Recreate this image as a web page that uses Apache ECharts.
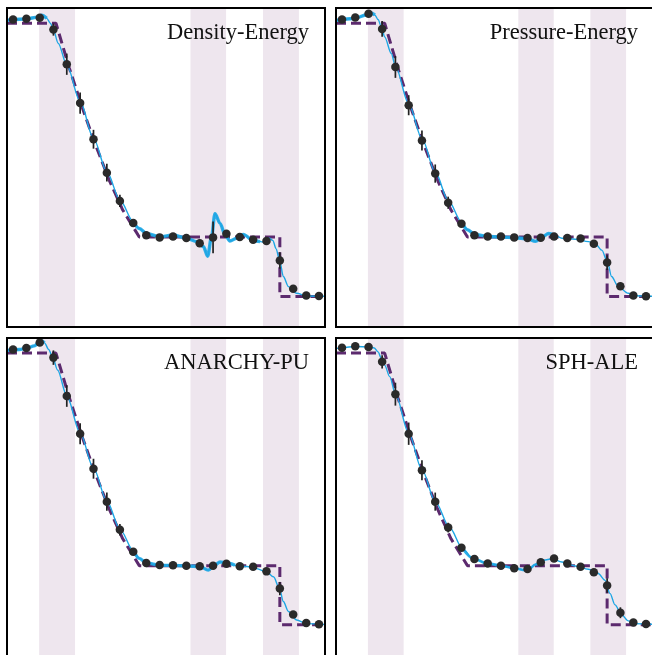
<!DOCTYPE html>
<html><head><meta charset="utf-8">
<script src="https://cdn.jsdelivr.net/npm/echarts@6/dist/echarts.min.js"></script>
<style>html,body{margin:0;padding:0;background:#fff}#c{width:652px;height:655px}</style>
</head><body><div id="c"></div>
<script>
// ---- data ----
const panelNames = ['Density-Energy', 'Pressure-Energy', 'ANARCHY-PU', 'SPH-ALE'];

// shaded comparison regions (x)
const bandStart = [0.101, 0.577, 0.805];
const bandEnd   = [0.214, 0.689, 0.918];

// analytic solution (pressure)
const analyticX = [0, 0.154, 0.196, 0.238, 0.280, 0.322, 0.364, 0.416, 0.858, 0.858, 1.0];
const analyticP = [1.0, 1.0, 0.852, 0.718, 0.595, 0.482, 0.385, 0.296, 0.296, 0.100, 0.100];

// binned means (x positions shared)
const binX = [0.019,0.061,0.103,0.146,0.188,0.230,0.272,0.314,0.355,0.397,0.438,0.480,0.522,0.564,0.606,0.648,0.690,0.732,0.774,0.816,0.858,0.900,0.941,0.981];

const deBinP = [1.012,1.015,1.018,0.979,0.865,0.737,0.618,0.508,0.415,0.342,0.302,0.295,0.298,0.293,0.276,0.295,0.307,0.296,0.287,0.283,0.219,0.126,0.104,0.102];
const deBinErr = [0.003,0.003,0.003,0.020,0.035,0.035,0.031,0.029,0.020,0.009,0.004,0.003,0.003,0.003,0.005,0.052,0.005,0.003,0.003,0.004,0.027,0.006,0.003,0.003];
const peBinP = [1.012,1.019,1.031,0.981,0.856,0.730,0.614,0.505,0.409,0.340,0.302,0.298,0.298,0.295,0.293,0.294,0.298,0.293,0.291,0.274,0.212,0.134,0.104,0.101];
const peBinErr = [0.003,0.003,0.003,0.026,0.036,0.033,0.033,0.030,0.020,0.009,0.004,0.003,0.003,0.003,0.003,0.004,0.003,0.003,0.003,0.004,0.024,0.009,0.003,0.003];
const apBinP = [1.012,1.017,1.035,0.985,0.858,0.733,0.617,0.508,0.415,0.342,0.305,0.298,0.297,0.296,0.294,0.296,0.302,0.294,0.292,0.277,0.220,0.134,0.106,0.102];
const apBinErr = [0.003,0.003,0.003,0.024,0.036,0.035,0.033,0.030,0.019,0.007,0.004,0.003,0.003,0.003,0.003,0.003,0.003,0.003,0.003,0.004,0.022,0.007,0.003,0.003];
const saBinP = [1.018,1.023,1.020,0.971,0.864,0.733,0.612,0.508,0.422,0.355,0.318,0.303,0.296,0.287,0.285,0.307,0.320,0.303,0.292,0.274,0.230,0.140,0.108,0.103];
const saBinErr = [0.003,0.003,0.003,0.022,0.038,0.037,0.033,0.030,0.016,0.011,0.004,0.003,0.003,0.003,0.003,0.003,0.003,0.003,0.003,0.004,0.024,0.018,0.003,0.003];

// particle profiles
const deBlueX = [0,0.018,0.060,0.097,0.109,0.125,0.137,0.146,0.161,0.188,0.230,0.272,0.314,0.355,0.397,0.416,0.439,0.481,0.523,0.565,0.597,0.618,0.631,0.643,0.654,0.670,0.686,0.701,0.722,0.743,0.775,0.796,0.809,0.825,0.836,0.846,0.857,0.869,0.885,0.911,0.942,1.0];
const deBlueP = [1.009,1.012,1.014,1.020,1.026,1.016,0.999,0.978,0.934,0.862,0.742,0.621,0.511,0.418,0.347,0.324,0.308,0.297,0.303,0.292,0.281,0.264,0.233,0.296,0.373,0.341,0.303,0.283,0.292,0.305,0.284,0.281,0.279,0.292,0.285,0.258,0.221,0.166,0.133,0.111,0.102,0.101];
const peBlueX = [0,0.028,0.060,0.097,0.110,0.123,0.133,0.144,0.154,0.175,0.188,0.230,0.272,0.314,0.355,0.397,0.416,0.439,0.481,0.523,0.565,0.607,0.631,0.652,0.673,0.694,0.715,0.757,0.799,0.820,0.841,0.859,0.872,0.893,0.925,0.946,1.0];
const peBlueP = [1.009,1.013,1.016,1.028,1.034,1.027,1.012,0.987,0.955,0.900,0.858,0.735,0.620,0.510,0.417,0.346,0.320,0.305,0.298,0.296,0.294,0.290,0.282,0.296,0.308,0.301,0.292,0.289,0.281,0.275,0.253,0.215,0.166,0.133,0.111,0.103,0.101];
const apBlueX = [0,0.039,0.062,0.086,0.102,0.108,0.118,0.131,0.144,0.159,0.188,0.230,0.272,0.314,0.355,0.397,0.416,0.439,0.481,0.523,0.565,0.607,0.633,0.652,0.670,0.691,0.717,0.754,0.785,0.817,0.838,0.857,0.869,0.885,0.911,0.942,1.0];
const apBlueP = [1.009,1.012,1.016,1.024,1.037,1.040,1.034,1.012,0.985,0.944,0.858,0.735,0.619,0.510,0.417,0.346,0.320,0.305,0.297,0.297,0.295,0.293,0.281,0.298,0.308,0.306,0.297,0.293,0.286,0.275,0.259,0.220,0.177,0.144,0.116,0.104,0.101];
const saBlueX = [0,0.020,0.062,0.107,0.121,0.133,0.144,0.154,0.170,0.188,0.230,0.272,0.314,0.359,0.401,0.432,0.474,0.516,0.558,0.600,0.610,0.631,0.657,0.684,0.715,0.757,0.799,0.830,0.851,0.867,0.883,0.904,0.925,0.946,1.0];
const saBlueP = [1.015,1.018,1.022,1.020,1.017,1.004,0.982,0.960,0.922,0.865,0.735,0.614,0.509,0.423,0.352,0.321,0.305,0.297,0.289,0.281,0.284,0.300,0.314,0.319,0.308,0.295,0.284,0.270,0.248,0.204,0.166,0.133,0.113,0.104,0.102];

// ---- layout / style ----
const panels = [
  {name: panelNames[0], binP: deBinP, err: deBinErr, bx: deBlueX, bp: deBlueP, thick: [[0,0.126],[0.39,0.80]], tw: 3.4},
  {name: panelNames[1], binP: peBinP, err: peBinErr, bx: peBlueX, bp: peBlueP, thick: [[0,0.124],[0.39,0.70]], tw: 3.4},
  {name: panelNames[2], binP: apBinP, err: apBinErr, bx: apBlueX, bp: apBlueP, thick: [[0,0.120],[0.39,0.72]], tw: 3.4},
  {name: panelNames[3], binP: saBinP, err: saBinErr, bx: saBlueX, bp: saBlueP, thick: [[0.39,0.66]], tw: 2.6}
];
const gridPos = [
  {left: 7, top: 8}, {left: 336, top: 8}, {left: 7, top: 338}, {left: 336, top: 338}
];
const GW = 318, GH = 319;
const YMAX = 1.05;
const BLUE = '#1DA6E4', PURPLE = '#5C2A6E', DOT = '#2A2A2A', BAND = '#EEE6EE';

const chart = echarts.init(document.getElementById('c'), null, {renderer: 'canvas'});
const grid = [], xAxis = [], yAxis = [], series = [], graphic = [];

panels.forEach((p, i) => {
  const g = gridPos[i];
  grid.push({left: g.left, top: g.top, width: GW, height: GH, show: false});
  xAxis.push({type: 'value', gridIndex: i, min: 0, max: 1, show: false});
  yAxis.push({type: 'value', gridIndex: i, min: 0, max: YMAX, show: false});

  series.push({
    type: 'custom', xAxisIndex: i, yAxisIndex: i, z: 1, silent: true,
    data: bandStart.map((s, k) => [s, bandEnd[k]]),
    encode: {x: [0, 1]},
    renderItem: (params, api) => {
      const a = api.coord([api.value(0), YMAX]);
      const b = api.coord([api.value(1), 0]);
      return {type: 'rect', shape: {x: a[0], y: a[1], width: b[0] - a[0], height: b[1] - a[1]}, style: {fill: BAND}};
    }
  });
  series.push({
    type: 'line', xAxisIndex: i, yAxisIndex: i, z: 3, silent: true, symbol: 'none',
    data: analyticX.map((x, k) => [x, analyticP[k]]),
    lineStyle: {color: PURPLE, width: 3, type: [10, 5], opacity: 1}
  });
  const pts = p.bx.map((x, k) => [x, p.bp[k]]);
  series.push({
    type: 'line', xAxisIndex: i, yAxisIndex: i, z: 4, silent: true, symbol: 'none',
    smooth: 0.3, smoothMonotone: 'x',
    data: pts, lineStyle: {color: BLUE, width: 1.4}
  });
  p.thick.forEach(r => {
    series.push({
      type: 'line', xAxisIndex: i, yAxisIndex: i, z: 4, silent: true, symbol: 'none',
      smooth: 0.3, smoothMonotone: 'x',
      data: pts.filter(q => q[0] >= r[0] && q[0] <= r[1]),
      lineStyle: {color: BLUE, width: p.tw, opacity: 0.9}
    });
  });
  series.push({
    type: 'custom', xAxisIndex: i, yAxisIndex: i, z: 5, silent: true,
    data: binX.map((x, k) => [x, p.binP[k], p.err[k]]),
    encode: {x: 0, y: 1},
    renderItem: (params, api) => {
      const x = api.value(0), y = api.value(1), e = api.value(2);
      const a = api.coord([x, y + e]), b = api.coord([x, y - e]);
      return {type: 'line', shape: {x1: a[0], y1: a[1], x2: b[0], y2: b[1]}, style: {stroke: '#222', lineWidth: 1.7}};
    }
  });
  series.push({
    type: 'scatter', xAxisIndex: i, yAxisIndex: i, z: 6, silent: true,
    symbol: 'circle', symbolSize: 8.5,
    data: binX.map((x, k) => [x, p.binP[k]]),
    itemStyle: {color: DOT, opacity: 1}
  });

  graphic.push({
    type: 'rect', z: 100, silent: true,
    shape: {x: g.left, y: g.top, width: GW, height: GH},
    style: {fill: 'none', stroke: '#000', lineWidth: 2}
  });
  graphic.push({
    type: 'text', z: 101, silent: true,
    x: g.left + 302, y: g.top + 25,
    style: {text: p.name, font: '22.5px "Liberation Serif"', fill: '#111', textAlign: 'right', textVerticalAlign: 'middle'}
  });
});

chart.setOption({animation: false, backgroundColor: '#fff', grid, xAxis, yAxis, series, graphic});
</script>
</body></html>
